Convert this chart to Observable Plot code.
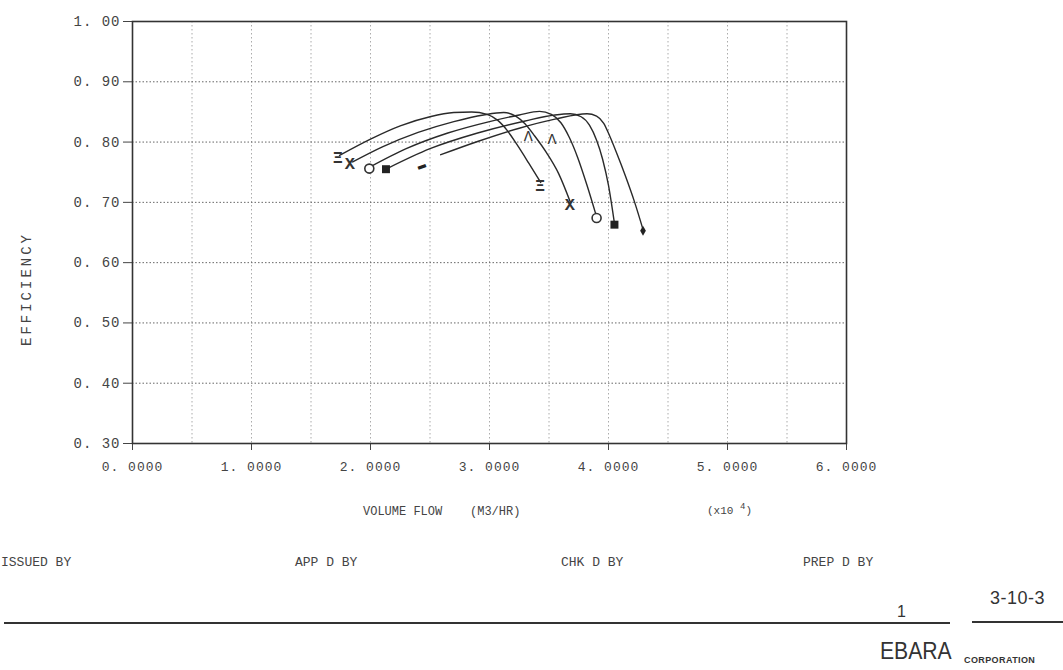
<!DOCTYPE html>
<html><head><meta charset="utf-8">
<script src="https://cdn.jsdelivr.net/npm/d3@7"></script>
<script src="https://cdn.jsdelivr.net/npm/@observablehq/plot@0.6"></script>
<style>
html,body{margin:0;padding:0;background:#fff}
body{width:1063px;height:670px;overflow:hidden;position:relative;font-family:"Liberation Mono","DejaVu Sans Mono",monospace;color:#444}
#chart{position:absolute;left:0;top:0}
#chart svg text{letter-spacing:1px}
.t{position:absolute;white-space:nowrap;line-height:1}
.m{font-family:"Liberation Mono","DejaVu Sans Mono",monospace;color:#444}
.s{font-family:"Liberation Sans",Arial,sans-serif;color:#333}
.rule{position:absolute;height:0;border-top:2px solid #333}
</style></head><body>
<div id="chart"></div>
<div class="t m" style="left:27px;top:289px;font-size:14px;letter-spacing:3px;transform:translate(-50%,-50%) rotate(-90deg);transform-origin:center;">EFFICIENCY</div>
<div class="t m" style="left:363px;top:506px;font-size:12px;">VOLUME FLOW</div>
<div class="t m" style="left:470px;top:506px;font-size:12px;">(M3/HR)</div>
<div class="t m" style="left:707px;top:506px;font-size:11px;">(x10 <span style="position:relative;top:-5px;font-size:9px;">4</span>)</div>
<div class="t m" style="left:1px;top:556px;font-size:13px;">ISSUED BY</div>
<div class="t m" style="left:295px;top:556px;font-size:13px;">APP D BY</div>
<div class="t m" style="left:561px;top:556px;font-size:13px;">CHK D BY</div>
<div class="t m" style="left:803px;top:556px;font-size:13px;">PREP D BY</div>
<div class="rule" style="left:4px;width:946px;top:622px;"></div>
<div class="rule" style="left:972px;width:91px;top:621px;"></div>
<div class="t s" style="left:897px;top:604px;font-size:16px;">1</div>
<div class="t s" style="left:990px;top:589px;font-size:18px;letter-spacing:0.5px;">3-10-3</div>
<div class="t s" style="left:880px;top:640px;font-size:23px;transform:scaleX(0.92);transform-origin:left;">EBARA</div>
<div class="t s" style="left:964px;top:656px;font-size:9px;font-weight:bold;letter-spacing:0.4px;">CORPORATION</div>
<script>
// ---- data ----
const seriesNames = ["A", "B", "C", "D", "E"];
const flowA = [1.74, 2.00, 2.25, 2.50, 2.70, 2.85, 2.98, 3.07, 3.15, 3.23, 3.33, 3.43];
const effA  = [0.778, 0.805, 0.827, 0.842, 0.849, 0.850, 0.846, 0.836, 0.819, 0.796, 0.765, 0.733];
const flowB = [1.85, 2.10, 2.40, 2.70, 2.95, 3.12, 3.22, 3.30, 3.38, 3.48, 3.58, 3.68];
const effB  = [0.767, 0.792, 0.816, 0.834, 0.845, 0.849, 0.843, 0.830, 0.810, 0.782, 0.748, 0.700];
const flowC = [1.99, 2.30, 2.65, 3.00, 3.25, 3.42, 3.52, 3.60, 3.67, 3.74, 3.82, 3.90];
const effC  = [0.758, 0.789, 0.815, 0.834, 0.845, 0.851, 0.846, 0.832, 0.808, 0.775, 0.728, 0.676];
const flowD = [2.14, 2.50, 2.90, 3.30, 3.55, 3.68, 3.77, 3.84, 3.90, 3.95, 4.00, 4.05];
const effD  = [0.756, 0.789, 0.815, 0.835, 0.845, 0.847, 0.842, 0.828, 0.803, 0.772, 0.728, 0.665];
const flowE = [2.59, 2.90, 3.25, 3.55, 3.82, 3.90, 3.96, 4.01, 4.07, 4.14, 4.22, 4.29];
const effE  = [0.779, 0.801, 0.823, 0.838, 0.847, 0.843, 0.831, 0.810, 0.781, 0.745, 0.700, 0.655];

const markerKind = ["xi", "x", "circle", "square", "dash", "xi", "x", "circle", "square", "diamond", "lambda", "lambda"];
const markerFlow = [1.73, 1.83, 1.99, 2.13, 2.43, 3.43, 3.68, 3.90, 4.05, 4.29, 3.33, 3.53];
const markerEff  = [0.775, 0.764, 0.756, 0.755, 0.763, 0.728, 0.697, 0.674, 0.663, 0.653, 0.810, 0.805];

const xTicks = [0, 1, 2, 3, 4, 5, 6];
const yTicks = [0.3, 0.4, 0.5, 0.6, 0.7, 0.8, 0.9, 1.0];
const xGrid = [0.5, 1, 1.5, 2, 2.5, 3, 3.5, 4, 4.5, 5, 5.5];
const yGrid = [0.4, 0.5, 0.6, 0.7, 0.8, 0.9];

// ---- build tables ----
const flows = [flowA, flowB, flowC, flowD, flowE];
const effs = [effA, effB, effC, effD, effE];
const lineData = seriesNames.flatMap((n, i) => flows[i].map((f, j) => ({series: n, flow: f, eff: effs[i][j]})));
const markers = markerKind.map((k, i) => ({kind: k, flow: markerFlow[i], eff: markerEff[i]}));
const glyph = {xi: "Ξ", x: "X", lambda: "Λ", dash: "▬"};

const chart = Plot.plot({
  width: 1063,
  height: 490,
  marginLeft: 132,
  marginRight: 217,
  marginTop: 21,
  marginBottom: 47,
  style: {fontFamily: "Liberation Mono, DejaVu Sans Mono, monospace", color: "#444", background: "#fff"},
  x: {domain: [0, 6]},
  y: {domain: [0.3, 1.0]},
  marks: [
    Plot.gridX(xGrid, {stroke: "#888", strokeOpacity: 0.7, strokeDasharray: "1.5,2.5"}),
    Plot.gridY(yGrid, {stroke: "#555", strokeOpacity: 0.9, strokeDasharray: "1.5,2"}),
    Plot.axisX({ticks: xTicks, tickSize: 7, tickPadding: 11, fontSize: 13, label: null,
      tickFormat: d => d.toFixed(4).replace(".", ". ")}),
    Plot.axisY({ticks: yTicks, tickSize: 9, tickPadding: 3, fontSize: 14, label: null,
      tickFormat: d => d.toFixed(2).replace(".", ". ")}),
    Plot.frame({stroke: "#333", strokeWidth: 1.6}),
    Plot.line(lineData, {x: "flow", y: "eff", z: "series", curve: "monotone-x", stroke: "#2a2a2a", strokeWidth: 1.4}),
    Plot.text(markers.filter(d => d.kind === "xi" || d.kind === "x"),
      {x: "flow", y: "eff", text: d => glyph[d.kind], fontSize: 17, fontWeight: "bold", fill: "#333"}),
    Plot.text(markers.filter(d => d.kind === "lambda"),
      {x: "flow", y: "eff", text: d => glyph[d.kind], fontSize: 15, fill: "#333"}),
    Plot.text(markers.filter(d => d.kind === "dash"),
      {x: "flow", y: "eff", text: d => glyph[d.kind], fontSize: 14, rotate: -20, fill: "#222"}),
    Plot.dot(markers.filter(d => d.kind === "circle"),
      {x: "flow", y: "eff", symbol: "circle", r: 4.5, stroke: "#333", strokeWidth: 1.6, fill: "#fff"}),
    Plot.dot(markers.filter(d => d.kind === "square"),
      {x: "flow", y: "eff", symbol: "square", r: 4.5, fill: "#222", stroke: "none"}),
    Plot.dot(markers.filter(d => d.kind === "diamond"),
      {x: "flow", y: "eff", symbol: "diamond", r: 3, fill: "#222", stroke: "none"})
  ]
});
document.getElementById("chart").appendChild(chart);
</script>
</body></html>
